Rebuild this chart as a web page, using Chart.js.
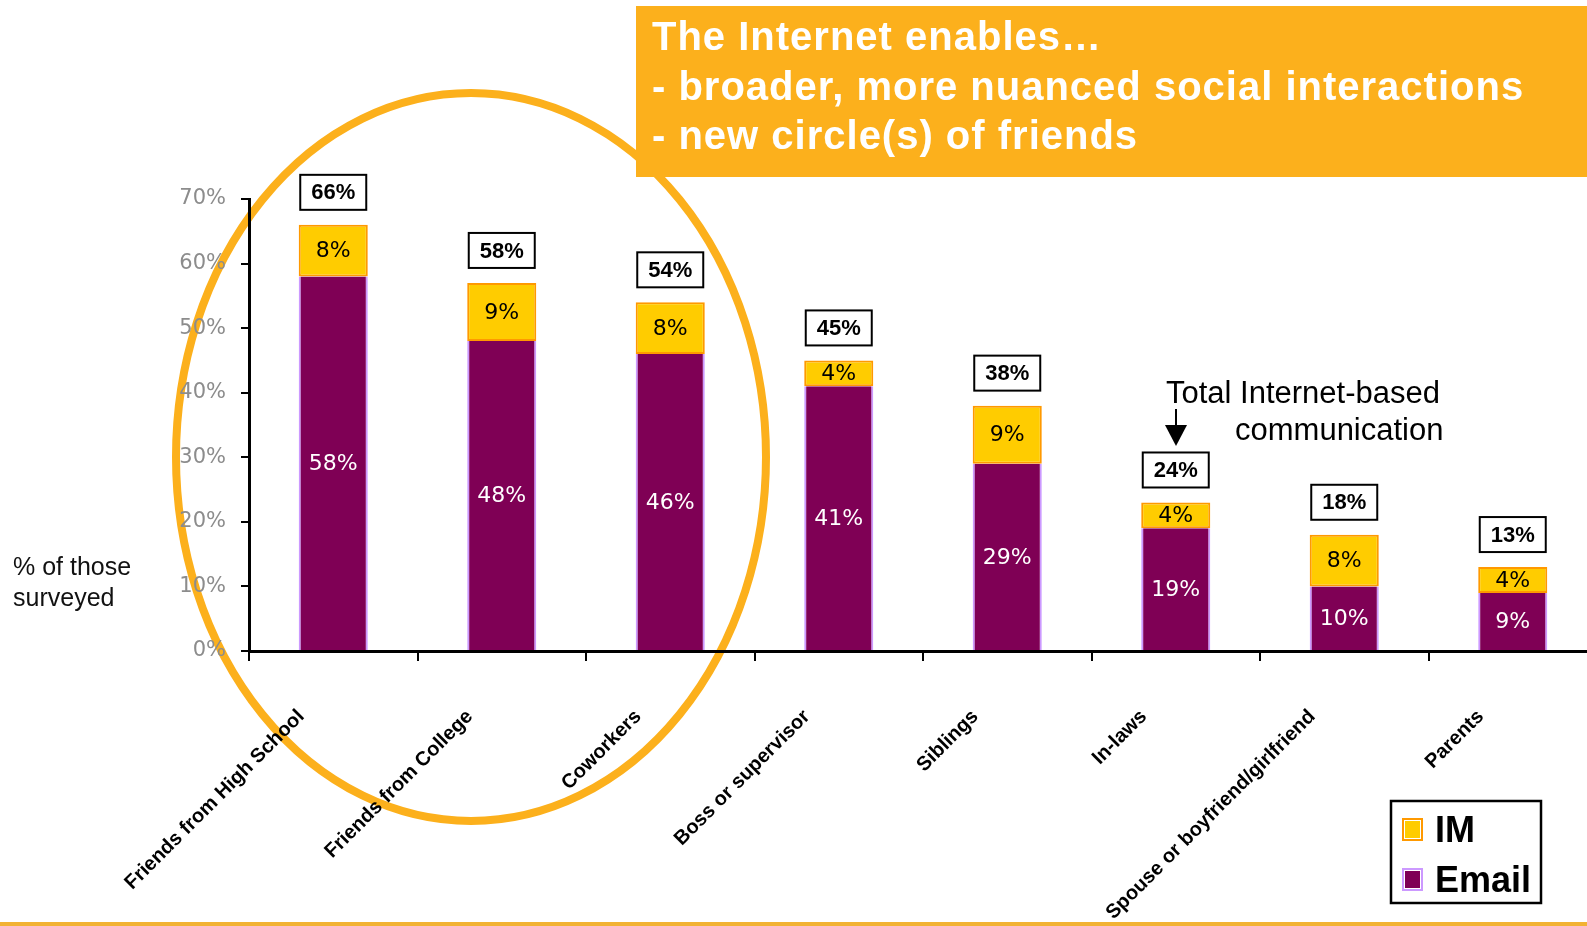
<!DOCTYPE html>
<html>
<head>
<meta charset="utf-8">
<title>Internet-based communication</title>
<script src="https://cdn.jsdelivr.net/npm/chart.js@4.4.0/dist/chart.umd.min.js"></script>
<style>
  html, body { margin: 0; padding: 0; background: #fff; overflow: hidden; }
  #wrap { width: 1600px; height: 926px; }
</style>
</head>
<body>
<div id="wrap"><canvas id="chart" width="1600" height="926"></canvas></div>
<script>
const categories = ['Friends from High School', 'Friends from College', 'Coworkers', 'Boss or supervisor',
  'Siblings', 'In-laws', 'Spouse or boyfriend/girlfriend', 'Parents'];
const emailValues = [58, 48, 46, 41, 29, 19, 10, 9];
const imValues = [8, 9, 8, 4, 9, 4, 8, 4];
// totals as printed in the boxes above each bar
const totalLabels = [66, 58, 54, 45, 38, 24, 18, 13];
const yMax = 70;
const yStep = 10;

const headline = ['The Internet enables\u2026', '- broader, more nuanced social interactions', '- new circle(s) of friends'];
const axisTitle = ['% of those', 'surveyed'];
const noteLines = ['Total Internet-based', 'communication'];

const SANS = "'Liberation Sans', Arial, sans-serif";
const VERD = "'DejaVu Sans', Verdana, sans-serif";
const ORANGE = '#fcb01c';

/*
 * Extra drawing: background, ring, headline box, segment labels,
 * total boxes, note with arrow, legend and axis title.
 */
const decorations = {
  id: 'decorations',
  beforeDraw(chart) {
    const ctx = chart.ctx;
    ctx.save();
    ctx.fillStyle = '#fff';
    ctx.fillRect(0, 0, chart.width, chart.height);

    // ring round the first three groups
    ctx.strokeStyle = ORANGE;
    ctx.lineWidth = 8;
    ctx.beginPath();
    ctx.ellipse(471, 457, 295, 364, 0, 0, Math.PI * 2);
    ctx.stroke();

    // headline box
    ctx.fillStyle = ORANGE;
    ctx.fillRect(636, 6, 964, 171);
    ctx.fillStyle = '#fff';
    ctx.font = 'bold 40px ' + SANS;
    ctx.letterSpacing = '1px';
    ctx.textAlign = 'left';
    ctx.textBaseline = 'alphabetic';
    headline.forEach((t, i) => ctx.fillText(t, 652, 50 + i * 49.5));
    ctx.restore();
  },
  afterDatasetsDraw(chart) {
    const ctx = chart.ctx;
    ctx.save();
    ctx.textAlign = 'center';
    ctx.textBaseline = 'middle';
    ctx.font = '22px ' + VERD;

    const colors = ['#fff', '#000'];
    chart.data.datasets.forEach((ds, d) => {
      ctx.fillStyle = colors[d];
      chart.getDatasetMeta(d).data.forEach((bar, i) => {
        const p = bar.getProps(['x', 'y', 'base'], true);
        ctx.fillText(ds.data[i] + '%', p.x, (p.y + p.base) / 2 + 1);
      });
    });

    // total boxes
    ctx.font = 'bold 22px ' + SANS;
    ctx.lineWidth = 2;
    chart.getDatasetMeta(1).data.forEach((bar, i) => {
      const p = bar.getProps(['x', 'y'], true);
      const w = 66, h = 35;
      const top = p.y - 15 - h;
      ctx.fillStyle = '#fff';
      ctx.fillRect(p.x - w / 2, top, w, h);
      ctx.strokeStyle = '#000';
      ctx.strokeRect(p.x - w / 2, top, w, h);
      ctx.fillStyle = '#000';
      ctx.fillText(totalLabels[i] + '%', p.x, top + h / 2 + 1);
    });
    ctx.restore();
  },
  afterDraw(chart) {
    const ctx = chart.ctx;
    ctx.save();
    ctx.textAlign = 'left';
    ctx.textBaseline = 'alphabetic';

    // axis title, kept horizontal
    ctx.fillStyle = '#111';
    ctx.font = '25px ' + SANS;
    ctx.fillText(axisTitle[0], 13, 575);
    ctx.fillText(axisTitle[1], 13, 606);

    // note with arrow
    ctx.font = '31px ' + SANS;
    ctx.fillStyle = '#000';
    ctx.fillText(noteLines[0], 1166, 403);
    ctx.fillText(noteLines[1], 1235, 440);
    ctx.strokeStyle = '#000';
    ctx.lineWidth = 2;
    ctx.beginPath();
    ctx.moveTo(1176, 409);
    ctx.lineTo(1176, 428);
    ctx.stroke();
    ctx.beginPath();
    ctx.moveTo(1165, 425);
    ctx.lineTo(1187, 425);
    ctx.lineTo(1176, 446);
    ctx.closePath();
    ctx.fill();

    // legend, IM listed first
    ctx.fillStyle = '#fff';
    ctx.fillRect(1391, 801, 150, 102);
    ctx.lineWidth = 2.5;
    ctx.strokeRect(1391, 801, 150, 102);
    const order = [1, 0];
    order.forEach((d, k) => {
      const ds = chart.data.datasets[d];
      const top = 818 + k * 50;
      ctx.fillStyle = ds.borderColor;
      ctx.fillRect(1402, top, 21, 23);
      ctx.fillStyle = '#fff';
      ctx.fillRect(1404, top + 2, 17, 19);
      ctx.fillStyle = ds.backgroundColor;
      ctx.fillRect(1405, top + 3, 15, 17);
      ctx.fillStyle = '#000';
      ctx.font = 'bold 36px ' + SANS;
      ctx.fillText(ds.label, 1435, top + 24);
    });

    // footer rule
    ctx.fillStyle = '#f2b233';
    ctx.fillRect(0, 922, chart.width, 4);
    ctx.restore();
  }
};

const ctx = document.getElementById('chart');

new Chart(ctx, {
  type: 'bar',
  data: {
    labels: categories,
    datasets: [{
      label: 'Email',
      data: emailValues,
      backgroundColor: '#7f0055',
      borderColor: '#cc99ff',
      borderWidth: { left: 2, right: 2, top: 0, bottom: 0 },
      borderSkipped: false,
      barPercentage: 0.41,
      categoryPercentage: 1
    }, {
      label: 'IM',
      data: imValues,
      backgroundColor: '#ffcc00',
      borderColor: '#ff9900',
      borderWidth: 2,
      borderSkipped: false,
      barPercentage: 0.41,
      categoryPercentage: 1
    }]
  },
  options: {
    responsive: false,
    animation: false,
    layout: { padding: { top: 199, right: 3, left: 0, bottom: 0 } },
    plugins: {
      legend: { display: false },
      tooltip: { enabled: false }
    },
    scales: {
      x: {
        stacked: true,
        grid: { offset: true, drawOnChartArea: false, color: '#000', lineWidth: 2, tickLength: 10 },
        border: { color: '#000', width: 3 },
        ticks: {
          autoSkip: false,
          minRotation: 45,
          maxRotation: 45,
          labelOffset: -32,
          padding: 44,
          color: '#000',
          font: { family: SANS, size: 20, weight: 'bold' }
        },
        afterFit(scale) { scale.height = 275; }
      },
      y: {
        stacked: true,
        min: 0,
        max: yMax,
        ticks: {
          stepSize: yStep,
          callback: v => v + '%',
          color: '#8c8c8c',
          font: { family: VERD, size: 21 },
          padding: 15
        },
        grid: { drawOnChartArea: false, color: '#000', lineWidth: 2, tickLength: 8 },
        border: { color: '#000', width: 3 },
        afterFit(scale) { scale.width = 249; }
      }
    }
  },
  plugins: [decorations]
});
</script>
</body>
</html>
